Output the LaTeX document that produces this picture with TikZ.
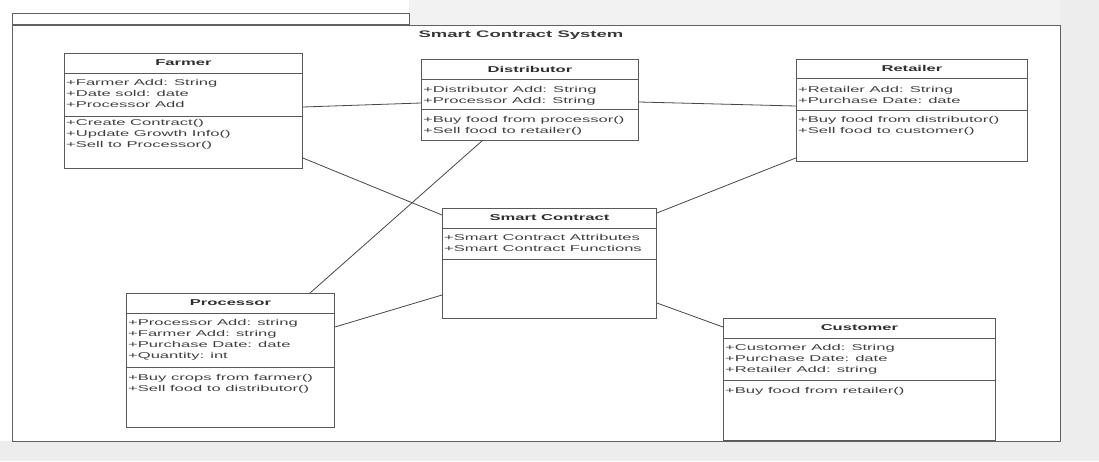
\documentclass[tikz,border=0pt]{standalone}
\usepackage{fontspec}
\newfontfamily\uml{Liberation Sans}
\newcommand\xs[1]{\scalebox{1.95}[1]{#1}}
\tikzset{
  frm/.style={draw=black!62, line width=1.3pt, fill=white, anchor=north west, inner sep=0pt},
  cls/.style={draw=black!65, line width=0.9pt, fill=white, anchor=north west, inner sep=0pt},
  ttl/.style={font=\uml\bfseries\fontsize{8.5}{11.2}\selectfont, text=black!82, inner sep=0pt},
  systtl/.style={font=\uml\bfseries\fontsize{9.5}{11.2}\selectfont, text=black!78, inner sep=0pt},
  txt/.style={font=\uml\fontsize{8.5}{11.2}\selectfont, text=black!75, anchor=north west, inner sep=0pt},
  sepline/.style={draw=black!65, line width=0.9pt},
  link/.style={draw=black!72, line width=0.8pt},
}
\begin{document}
\begin{tikzpicture}[x=1pt,y=-1pt]
\useasboundingbox (0,0) rectangle (1099,461);
% background
\fill[white] (0,0) rectangle (1099,461);
\fill[black!7] (1060,0) rectangle (1099,461);
\fill[black!7] (0,441) rectangle (1099,461);
\fill[black!5] (409,0) rectangle (1060,25);

% package frame
\node[frm, minimum width=1048pt, minimum height=416pt] (sys) at (12,25) {};
\node[frm, anchor=south west, minimum width=397pt, minimum height=11pt] (tab) at (sys.north west) {};
\node[systtl] (systitle) at (521,35) {\xs{Smart Contract System}};

% connectors (drawn first, boxes cover ends)
\node[cls, minimum width=238pt, minimum height=115pt] (farmer) at (64,53) {};
\node[cls, minimum width=217pt, minimum height=81pt] (dist) at (421,59) {};
\node[cls, minimum width=231pt, minimum height=102pt] (ret) at (796,59) {};
\node[cls, minimum width=214pt, minimum height=110pt] (sc) at (442,208) {};
\node[cls, minimum width=208pt, minimum height=134pt] (proc) at (126,293) {};
\node[cls, minimum width=272pt, minimum height=122pt] (cust) at (723,318) {};

\draw[link] ([yshift=-54pt]farmer.north east) -- ([yshift=-44pt]dist.north west);
\draw[link] ([yshift=-105pt]farmer.north east) -- ([yshift=-7pt]sc.north west);
\draw[link] ([yshift=-43pt]dist.north east) -- ([yshift=-47pt]ret.north west);
\draw[link] ([xshift=61pt]dist.south west) -- ([xshift=184pt]proc.north west);
\draw[link] ([yshift=4pt]ret.south west) -- ([yshift=-5pt]sc.north east);
\draw[link] ([yshift=-34pt]proc.north east) -- ([yshift=-87pt]sc.north west);
\draw[link] ([yshift=-95pt]sc.north east) -- ([yshift=-9pt]cust.north west);

% Farmer
\draw[sepline] ([yshift=-20pt]farmer.north west) -- ([yshift=-20pt]farmer.north east);
\draw[sepline] ([yshift=-63pt]farmer.north west) -- ([yshift=-63pt]farmer.north east);
\node[ttl] (farmerT) at ([yshift=-10pt]farmer.north) {\xs{Farmer}};
\node[txt] (farmerA) at ([xshift=2pt,yshift=-24.2pt]farmer.north west) {\xs{\begin{tabular}{@{}l@{}}+Farmer Add: String\\+Date sold: date\\+Processor Add\end{tabular}}};
\node[txt] (farmerM) at ([xshift=2pt,yshift=-64.2pt]farmer.north west) {\xs{\begin{tabular}{@{}l@{}}+Create Contract()\\+Update Growth Info()\\+Sell to Processor()\end{tabular}}};

% Distributor
\draw[sepline] ([yshift=-20pt]dist.north west) -- ([yshift=-20pt]dist.north east);
\draw[sepline] ([yshift=-50pt]dist.north west) -- ([yshift=-50pt]dist.north east);
\node[ttl] (distT) at ([yshift=-10pt]dist.north) {\xs{Distributor}};
\node[txt] (distA) at ([xshift=2pt,yshift=-25.2pt]dist.north west) {\xs{\begin{tabular}{@{}l@{}}+Distributor Add: String\\+Processor Add: String\end{tabular}}};
\node[txt] (distM) at ([xshift=2pt,yshift=-55.2pt]dist.north west) {\xs{\begin{tabular}{@{}l@{}}+Buy food from processor()\\+Sell food to retailer()\end{tabular}}};

% Retailer
\draw[sepline] ([yshift=-19pt]ret.north west) -- ([yshift=-19pt]ret.north east);
\draw[sepline] ([yshift=-51pt]ret.north west) -- ([yshift=-51pt]ret.north east);
\node[ttl] (retT) at ([yshift=-9.5pt]ret.north) {\xs{Retailer}};
\node[txt] (retA) at ([xshift=2pt,yshift=-25.2pt]ret.north west) {\xs{\begin{tabular}{@{}l@{}}+Retailer Add: String\\+Purchase Date: date\end{tabular}}};
\node[txt] (retM) at ([xshift=2pt,yshift=-55.2pt]ret.north west) {\xs{\begin{tabular}{@{}l@{}}+Buy food from distributor()\\+Sell food to customer()\end{tabular}}};

% Smart Contract
\draw[sepline] ([yshift=-20pt]sc.north west) -- ([yshift=-20pt]sc.north east);
\draw[sepline] ([yshift=-51pt]sc.north west) -- ([yshift=-51pt]sc.north east);
\node[ttl] (scT) at ([yshift=-10pt]sc.north) {\xs{Smart Contract}};
\node[txt] (scA) at ([xshift=2pt,yshift=-24.2pt]sc.north west) {\xs{\begin{tabular}{@{}l@{}}+Smart Contract Attributes\\+Smart Contract Functions\end{tabular}}};

% Processor
\draw[sepline] ([yshift=-20pt]proc.north west) -- ([yshift=-20pt]proc.north east);
\draw[sepline] ([yshift=-74pt]proc.north west) -- ([yshift=-74pt]proc.north east);
\node[ttl] (procT) at ([yshift=-10pt]proc.north) {\xs{Processor}};
\node[txt] (procA) at ([xshift=2pt,yshift=-24.2pt]proc.north west) {\xs{\begin{tabular}{@{}l@{}}+Processor Add: string\\+Farmer Add: string\\+Purchase Date: date\\+Quantity: int\end{tabular}}};
\node[txt] (procM) at ([xshift=2pt,yshift=-79.2pt]proc.north west) {\xs{\begin{tabular}{@{}l@{}}+Buy crops from farmer()\\+Sell food to distributor()\end{tabular}}};

% Customer
\draw[sepline] ([yshift=-20pt]cust.north west) -- ([yshift=-20pt]cust.north east);
\draw[sepline] ([yshift=-62pt]cust.north west) -- ([yshift=-62pt]cust.north east);
\node[ttl] (custT) at ([yshift=-10pt]cust.north) {\xs{Customer}};
\node[txt] (custA) at ([xshift=2pt,yshift=-24.2pt]cust.north west) {\xs{\begin{tabular}{@{}l@{}}+Customer Add: String\\+Purchase Date: date\\+Retailer Add: string\end{tabular}}};
\node[txt] (custM) at ([xshift=2pt,yshift=-67.2pt]cust.north west) {\xs{\begin{tabular}{@{}l@{}}+Buy food from retailer()\end{tabular}}};
\end{tikzpicture}
\end{document}
